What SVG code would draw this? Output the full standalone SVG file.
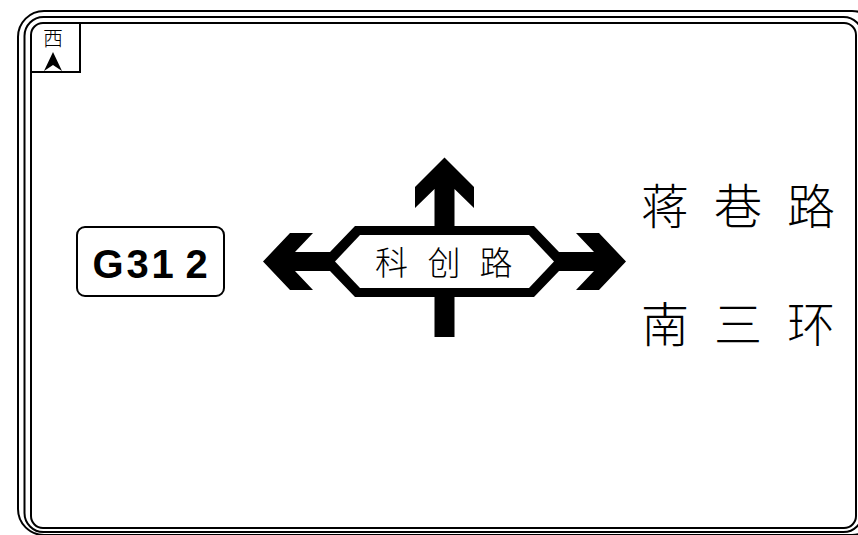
<svg xmlns="http://www.w3.org/2000/svg" width="858" height="535" viewBox="0 0 858 535">
  <style>
    .ln{fill:none;stroke:#000;stroke-width:2}
    .cjk{font-family:"Noto Sans CJK SC","Noto Sans CJK JP",sans-serif;font-weight:300;fill:#000;text-anchor:middle}
    .rt{font-family:"Liberation Sans",Arial,sans-serif;font-weight:bold;font-size:40px;fill:#000;text-anchor:middle}
  </style>
  <rect width="858" height="535" fill="#fff"/>
  <g id="border">
    <rect class="ln" x="18" y="11" width="860" height="524" rx="26"/>
    <rect class="ln" x="24.5" y="17" width="838" height="515" rx="19"/>
    <rect class="ln" x="31" y="23" width="825" height="505" rx="12" stroke-width="2.5"/>
  </g>
  <g id="direction-indicator">
    <path class="ln" d="M31 72 H80 V23"/>
    <text class="cjk" x="53" y="46" font-size="20">西</text>
    <path d="M53 52 L62 71 L53 65 L44 71 Z" fill="#000"/>
  </g>
  <g id="route-G312">
    <rect class="ln" x="77" y="227" width="147" height="69" rx="8"/>
    <text class="rt" x="108" y="278">G</text>
    <text class="rt" x="137.5" y="278">3</text>
    <text class="rt" x="162.5" y="278">1</text>
    <text class="rt" x="196.5" y="278">2</text>
  </g>
  <g id="arrows">
    <path fill="#000" d="M444.5 157.5 L474 187 V208 L454.5 189 V226 H534 L559 252 H594 L576 233 H599 L626 261.5 L599 290 H576 L594 271 H559 L534 297 H454.5 V337 H434.5 V297 H355 L330 271 H295 L313 290 H290 L263 261.5 L290 233 H313 L295 252 H330 L355 226 H434.5 V189 L415 208 V187 Z"/>
    <path fill="#fff" d="M360 235 H529 L554 261.5 L529 288 H360 L335 261.5 Z"/>
  </g>
  <g id="road-kechuang">
    <text class="cjk" x="391.5" y="275" font-size="33">科</text>
    <text class="cjk" x="444" y="275" font-size="33">创</text>
    <text class="cjk" x="496" y="275" font-size="33">路</text>
  </g>
  <g id="dest-jiangxiang">
    <text class="cjk" x="665" y="224" font-size="48">蒋</text>
    <text class="cjk" x="738" y="224" font-size="48">巷</text>
    <text class="cjk" x="811" y="224" font-size="48">路</text>
  </g>
  <g id="dest-nansanhuan">
    <text class="cjk" x="665" y="342" font-size="48">南</text>
    <text class="cjk" x="738" y="342" font-size="48">三</text>
    <text class="cjk" x="811" y="342" font-size="48">环</text>
  </g>
</svg>
